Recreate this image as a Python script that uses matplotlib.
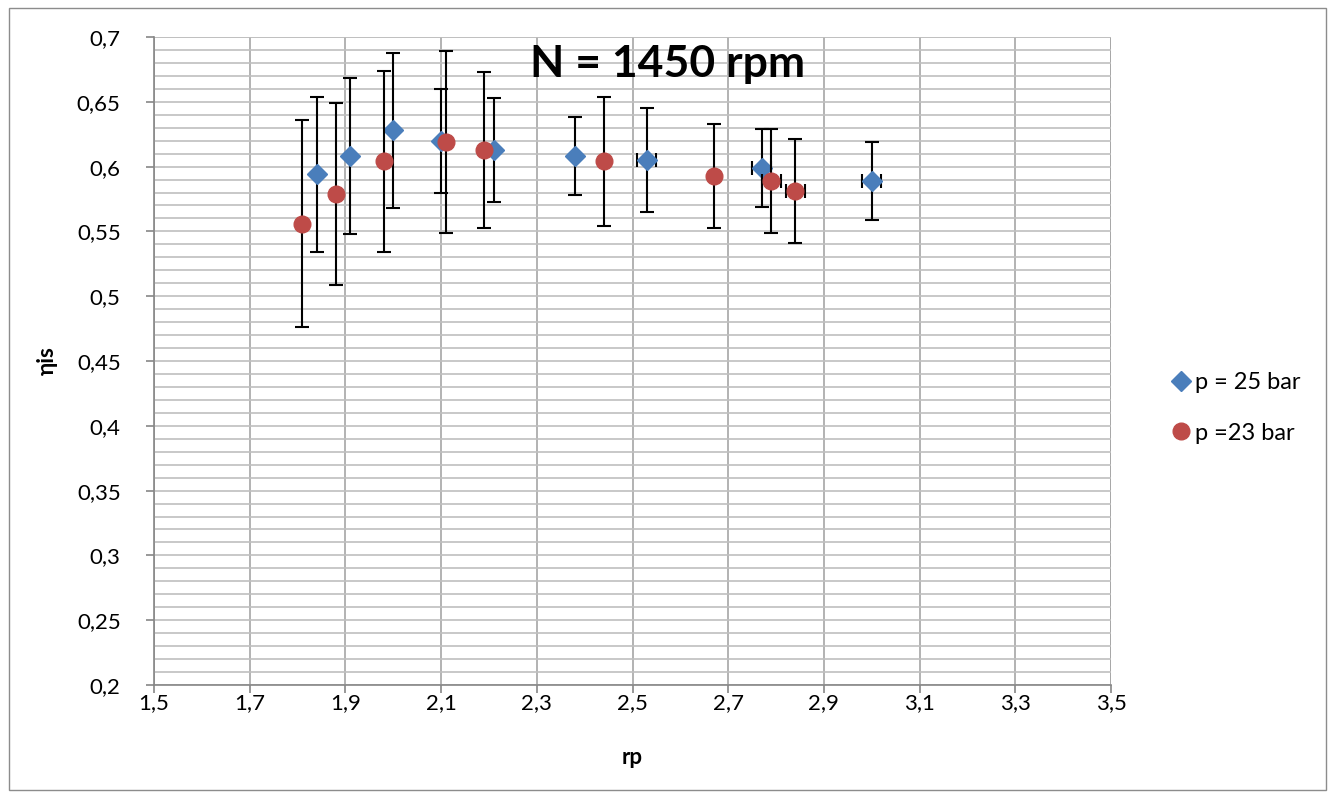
import matplotlib
matplotlib.use("Agg")
import matplotlib.pyplot as plt
from matplotlib.patches import Rectangle
from matplotlib.ticker import MultipleLocator, FuncFormatter

plt.rcParams['font.family'] = ['Lato', 'DejaVu Sans']

# p = 25 bar
rp_25 = [1.84, 1.91, 2.00, 2.10, 2.21, 2.38, 2.53, 2.77, 3.00]
eta_25 = [0.594, 0.608, 0.628, 0.620, 0.613, 0.608, 0.605, 0.599, 0.589]
yerr_25 = [0.06, 0.06, 0.06, 0.04, 0.04, 0.03, 0.04, 0.03, 0.03]
xerr_25 = [0.0, 0.0, 0.0, 0.0, 0.0, 0.0, 0.02, 0.02, 0.02]

# p = 23 bar
rp_23 = [1.81, 1.88, 1.98, 2.11, 2.19, 2.44, 2.67, 2.79, 2.84]
eta_23 = [0.556, 0.579, 0.604, 0.619, 0.613, 0.604, 0.593, 0.589, 0.581]
yerr_23 = [0.08, 0.07, 0.07, 0.07, 0.06, 0.05, 0.04, 0.04, 0.04]
xerr_23 = [0.0, 0.0, 0.0, 0.0, 0.0, 0.0, 0.0, 0.02, 0.02]

x_ticks = [1.5, 1.7, 1.9, 2.1, 2.3, 2.5, 2.7, 2.9, 3.1, 3.3, 3.5]
y_ticks = [0.2, 0.25, 0.3, 0.35, 0.4, 0.45, 0.5, 0.55, 0.6, 0.65, 0.7]

blue = '#4a7ebb'
red = '#be4b48'
grid_c = '#a6a6a6'

fig = plt.figure(figsize=(13.33, 8.0), dpi=100)
ax = fig.add_axes([154 / 1333, 1 - 685 / 800, (1111 - 154) / 1333, (685 - 37) / 800])

# outer chart border
fig.patches.append(Rectangle((9 / 1333, 1 - 790 / 800), (1326 - 9) / 1333, (790 - 8) / 800,
                             transform=fig.transFigure, fill=False,
                             edgecolor='#8c8c8c', linewidth=1.0))

ax.set_xlim(1.5, 3.5)
ax.set_ylim(0.2, 0.7)
ax.set_xticks(x_ticks)
ax.set_yticks(y_ticks)
ax.yaxis.set_minor_locator(MultipleLocator(0.01))

comma = FuncFormatter(lambda v, p: ('%g' % round(v, 3)).replace('.', ','))
ax.xaxis.set_major_formatter(comma)
ax.yaxis.set_major_formatter(comma)

ax.grid(True, which='major', axis='x', color=grid_c, linewidth=1.2)
ax.grid(True, which='both', axis='y', color='#bfbfbf', linewidth=1.2)
ax.set_axisbelow(True)

for s in ['top', 'right']:
    ax.spines[s].set_visible(False)
for s in ['left', 'bottom']:
    ax.spines[s].set_color('#868686')
    ax.spines[s].set_linewidth(1.2)
# closing lines at right and top edges
ax.axvline(3.5, color=grid_c, linewidth=1.2, zorder=0)
ax.axhline(0.7, color='#bfbfbf', linewidth=1.2, zorder=0)

ax.tick_params(axis='both', which='major', direction='out', length=6,
               color='#868686', labelsize=16, colors='black', width=1.2)
ax.tick_params(axis='y', which='minor', length=0)
ax.tick_params(axis='y', pad=18)
ax.tick_params(axis='x', pad=0)

ax.errorbar(rp_25, eta_25, yerr=yerr_25, xerr=xerr_25, fmt='D', color=blue,
            markersize=10, ecolor='black', elinewidth=1.5, capsize=5, capthick=1.5,
            label='p = 25 bar', zorder=3)
ax.errorbar(rp_23, eta_23, yerr=yerr_23, xerr=xerr_23, fmt='o', color=red,
            markersize=12, ecolor='black', elinewidth=1.5, capsize=5, capthick=1.5,
            label='p =23 bar', zorder=4)

ax.text(0.537, 0.958, 'N = 1450 rpm', transform=ax.transAxes, ha='center', va='center',
        fontsize=32, fontweight='bold')

ax.set_xlabel('rp', fontsize=16, fontweight='bold', labelpad=24)
ax.set_ylabel('ηis', fontsize=16, fontweight='bold', labelpad=14)

h, l = ax.get_legend_handles_labels()
h = [hh[0] for hh in h]
fig.legend(h, l, loc='center left', bbox_to_anchor=(1148 / 1333, 1 - 408 / 800),
           frameon=False, fontsize=17, handletextpad=0.1, labelspacing=1.25,
           handlelength=1.0)

fig.savefig('out.png', dpi=100)
